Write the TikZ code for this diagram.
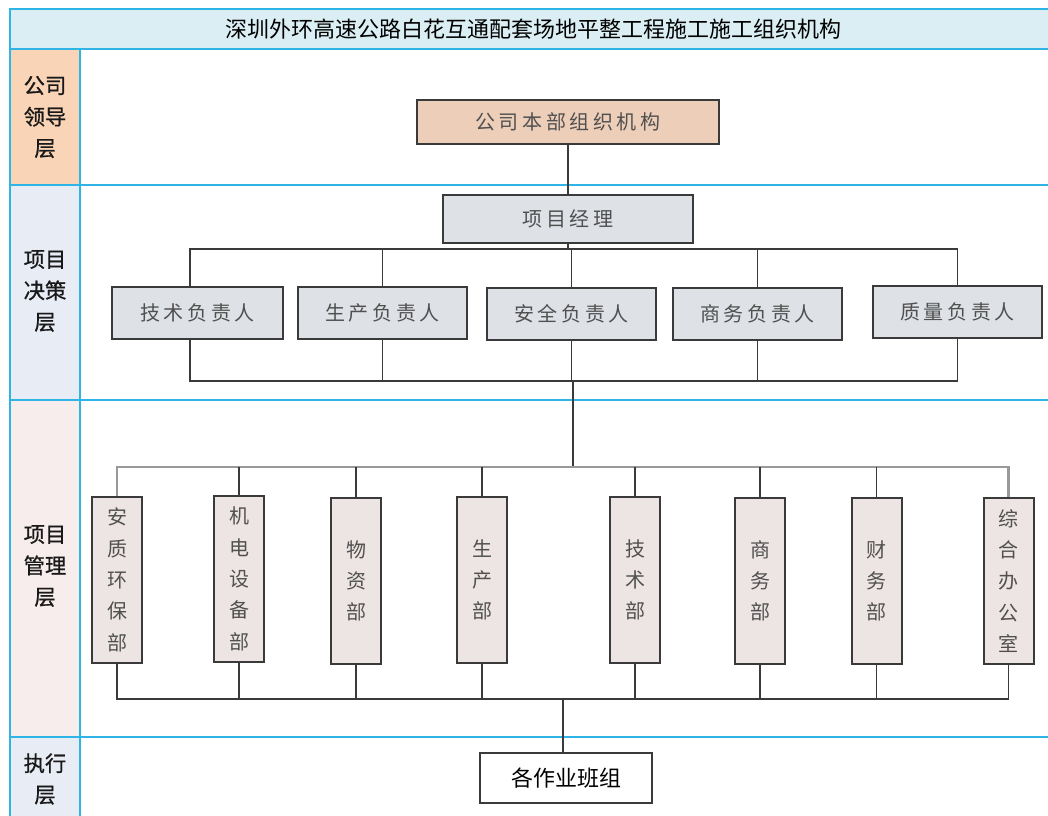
\documentclass[tikz,border=0pt]{standalone}
\usepackage{fontspec}
\newfontfamily\cjk{Noto Sans CJK SC}
\newfontfamily\cjkb[FakeBold=0.8]{Noto Sans CJK SC}
\newfontfamily\cjksp[LetterSpace=18]{Noto Sans CJK SC}
\definecolor{frameC}{HTML}{2FB4E6}
\definecolor{titleF}{HTML}{DAEEF3}
\definecolor{peachL}{HTML}{F9D4B6}
\definecolor{blueL}{HTML}{E7ECF5}
\definecolor{pinkL}{HTML}{F7EDED}
\definecolor{topF}{HTML}{EDCEB8}
\definecolor{midF}{HTML}{DEE1E6}
\definecolor{depF}{HTML}{EDE5E3}
\definecolor{lineC}{HTML}{3A3A3A}
\definecolor{boxT}{HTML}{505050}
\tikzset{
  framel/.style={draw=frameC, line width=1.6pt},
  laybl/.style={font=\cjkb\fontsize{16}{23.5}\selectfont, align=center, text=black!90},
  obox/.style={draw=lineC, line width=1.5pt, inner sep=0pt, text=boxT, font=\cjksp\fontsize{15}{18}\selectfont},
  topbox/.style={obox, fill=topF},
  midbox/.style={obox, fill=midF},
  depbox/.style={obox, fill=depF, font=\cjk\fontsize{15}{23.5}\selectfont, align=center, minimum width=37.5pt, minimum height=124.5pt},
  conn/.style={draw=lineC, line width=1.3pt},
  connl/.style={draw=gray!80, line width=1.7pt}
}
\begin{document}
\begin{tikzpicture}[x=0.75pt,y=-0.75pt]
\useasboundingbox (0,0) rectangle (1048,816);
\clip (0,0) rectangle (1048,816);
% frame backgrounds
\fill[titleF] (10,9) rectangle (1060,49);
\fill[peachL] (10,49) rectangle (80,185);
\fill[blueL] (10,185) rectangle (80,400);
\fill[pinkL] (10,400) rectangle (80,737);
\fill[blueL] (10,737) rectangle (80,830);
\draw[framel] (10,9) rectangle (1060,830);
\draw[framel] (10,49) -- (1060,49);
\draw[framel] (10,185) -- (1060,185);
\draw[framel] (10,400) -- (1060,400);
\draw[framel] (10,737) -- (1060,737);
\draw[framel] (80,49) -- (80,830);
% title
\node[font=\cjk\fontsize{16.5}{20}\selectfont, text=black] (title) at (533,29) {深圳外环高速公路白花互通配套场地平整工程施工施工组织机构};
% layer labels
\node[laybl] (l1) at (45,117) {公司\\领导\\层};
\node[laybl] (l2) at (45,291) {项目\\决策\\层};
\node[laybl] (l3) at (45,566) {项目\\管理\\层};
\node[laybl] (l4) at (45,779) {执行\\层};
% boxes
\node[topbox, minimum width=226.5pt, minimum height=33pt] (hq) at (568,122) {公司本部组织机构};
\node[midbox, minimum width=187.5pt, minimum height=36pt] (pm) at (568,219) {项目经理};
\node[midbox, minimum width=128.25pt, minimum height=39pt] (r1) at (197.5,313) {技术负责人};
\node[midbox, minimum width=126.75pt, minimum height=39pt] (r2) at (382.5,313) {生产负责人};
\node[midbox, minimum width=126.75pt, minimum height=39pt] (r3) at (571.5,314) {安全负责人};
\node[midbox, minimum width=126.75pt, minimum height=39pt] (r4) at (757.5,314) {商务负责人};
\node[midbox, minimum width=126.75pt, minimum height=39pt] (r5) at (957.5,312) {质量负责人};
\node[depbox] (d1) at (117,580) {安\\质\\环\\保\\部};
\node[depbox] (d2) at (239,579) {机\\电\\设\\备\\部};
\node[depbox] (d3) at (356,581) {物\\资\\部};
\node[depbox] (d4) at (482,580) {生\\产\\部};
\node[depbox] (d5) at (635,580) {技\\术\\部};
\node[depbox] (d6) at (760,581) {商\\务\\部};
\node[depbox] (d7) at (876.5,581) {财\\务\\部};
\node[depbox] (d8) at (1008.5,581) {综\\合\\办\\公\\室};
\node[obox, fill=white, text=black, font=\cjk\fontsize{16.5}{20}\selectfont, minimum width=129pt, minimum height=37.5pt] (team) at (566,778) {各作业班组};
% bus coordinates
\coordinate (busA) at (0,249);
\coordinate (busB) at (0,381);
\coordinate (busC) at (0,467);
\coordinate (busD) at (0,699);
\coordinate (xl) at (190,0);
\coordinate (jB) at (573,381);
\coordinate (jD) at (563,699);
% connectors
\draw[conn] (hq.south) -- (pm.north);
\draw[conn] (pm.south) -- (pm.south |- busA);
\draw[conn] (r1.north -| xl) |- (r5.north |- busA) -- (r5.north);
\foreach \n in {r2,r3,r4} \draw[conn] (\n.north) -- (\n.north |- busA);
\draw[conn] (r1.south -| xl) |- (r5.south |- busB) -- (r5.south);
\foreach \n in {r2,r3,r4} \draw[conn] (\n.south) -- (\n.south |- busB);
\draw[conn] (jB) -- (jB |- busC);
\draw[connl] (d1.north) |- (d8.north |- busC) -- (d8.north);
\foreach \n in {d2,d3,d4,d5,d6,d7} \draw[conn] (\n.north) -- (\n.north |- busC);
\draw[conn] (d1.south) |- (d8.south |- busD) -- (d8.south);
\foreach \n in {d2,d3,d4,d5,d6,d7} \draw[conn] (\n.south) -- (\n.south |- busD);
\draw[conn] (jD) -- (jD |- team.north);
\end{tikzpicture}
\end{document}
